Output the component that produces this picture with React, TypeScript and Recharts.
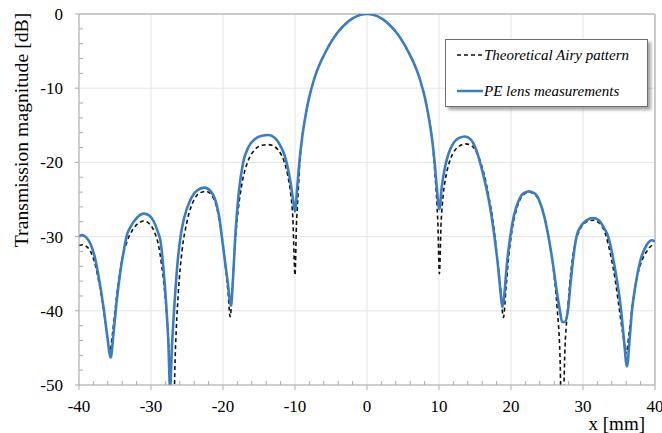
import React from 'react';
import { LineChart, Line, XAxis, YAxis, CartesianGrid, Legend } from 'recharts';

// ---- data ----
const seriesNames: string[] = ['Theoretical Airy pattern', 'PE lens measurements'];

const theoryX: number[] = [
  -40, -39.5, -39, -38.4, -37.8, -37.2, -36.6, -36.1, -35.7, -35.4, -35, -34.5, -34, -33.3, -32.5, -31.6, -31,
  -30.3, -29.6, -29, -28.5, -28, -27.5, -27, -26.6, -26.2, -25.7, -25, -24, -23.2, -22.4, -21.6, -20.9, -20.4,
  -20, -19.6, -19.3, -19, -18.7, -18.4, -17.9, -17.3, -16.6, -15.6, -14.6, -13.7, -12.8, -12, -11.5, -11, -10.6,
  -10.3, -10, -9.8, -9.6, -9.4, -9, -8.5, -8, -7.5, -7, -6.5, -6, -5.5, -5, -4, -3, -2, -1, 0, 1, 2, 3, 4, 5, 5.5,
  6, 6.5, 7, 7.5, 8, 8.5, 9, 9.4, 9.65, 9.85, 10.05, 10.3, 10.6, 11, 11.5, 12, 12.8, 13.7, 14.6, 15.4, 16.1,
  16.8, 17.5, 18, 18.5, 18.95, 19.3, 19.7, 20.2, 20.8, 21.6, 22.5, 23.3, 24, 24.7, 25.3, 25.9, 26.4, 26.8, 27.1,
  27.5, 27.9, 28.4, 28.9, 29.6, 30.5, 31.4, 32.3, 33.1, 33.8, 34.5, 35, 35.6, 36, 36.4, 36.9, 37.5, 38.2, 39,
  39.6, 40,
];
const theoryY: number[] = [
  -31.2, -31.1, -31.3, -32, -33.6, -36.3, -39.8, -43.5, -45.5, -43.5, -40, -36, -33, -30.6, -29, -28.1, -27.9,
  -28.2, -29.2, -31, -34, -38.5, -45.5, -58, -45, -37.5, -32, -28, -25, -24.1, -23.9, -24.4, -26, -28.5,
  -31, -34.5, -37.5, -40.8, -37, -32, -26.5, -22.5, -20, -18.3, -17.7, -17.6, -17.9, -18.8, -19.9, -21.8, -24.2,
  -27.5, -35.2, -28.5, -24.8, -21, -16.6, -13.5, -11.1, -9.3, -7.8, -6.6, -5.6, -4.65, -3.8, -2.4, -1.35, -0.6, -0.15, 0, -0.15, -0.6, -1.35, -2.4, -3.8, -4.65,
  -5.6, -6.6, -7.8, -9.3, -11.1, -13.5, -16.6, -21, -24.5, -28.5, -35, -28, -24.3, -21.7, -19.8, -18.7, -17.8, -17.5, -17.8, -19, -21,
  -24, -28, -32, -36.5, -40.9, -37, -32.5, -28.8, -26.2, -24.5, -24, -24.3, -25.4, -27.6, -30.5, -34.5, -39.5, -46, -58,
  -45, -39.5, -34, -31, -29, -28, -27.8, -28.2, -29.6, -32.3, -36, -39.5, -43.5, -45.7, -43, -39, -35.5, -33.2, -31.8,
  -31.2, -31.2,
];

const measuredX: number[] = [
  -40, -39.6, -39, -38.4, -37.8, -37.2, -36.6, -36.1, -35.6, -35.2, -34.8, -34.3, -33.8, -33.4, -32.8, -32, -31,
  -30.2, -29.6, -29, -28.7, -28.3, -27.9, -27.6, -27.35, -27.1, -26.8, -26.4, -25.9, -25.4, -24.6, -23.6, -22.6,
  -21.7, -21, -20.5, -20.1, -19.7, -19.3, -18.9, -18.6, -18.3, -17.8, -17.2, -16.5, -15.5, -14.6, -13.7, -12.8,
  -12, -11.5, -11.1, -10.6, -10.25, -10, -9.7, -9.4, -9, -8.5, -8, -7.5, -7, -6.5, -6, -5.5, -5, -4, -3, -2, -1, 0,
  1, 2, 3, 4, 5, 5.5, 6, 6.5, 7, 7.5, 8, 8.5, 9, 9.4, 9.7, 10.05, 10.4, 10.8, 11.3, 12, 12.8, 13.6, 14.4, 15, 15.7,
  16.3, 17, 17.7, 18.2, 18.55, 18.8, 19.1, 19.4, 19.9, 20.4, 21, 21.7, 22.5, 23.3, 24, 24.6, 25.2, 25.8, 26.3,
  26.8, 27.1, 27.5, 27.9, 28.3, 28.7, 29.1, 29.7, 30.5, 31.4, 32.2, 32.9, 33.5, 34.1, 34.7, 35.3, 35.7, 36.1,
  36.5, 36.8, 37.3, 37.9, 38.8, 39.6, 40,
];
const measuredY: number[] = [
  -30, -29.8, -30.1, -31, -32.8, -35.8, -39.5, -43.2, -46.3, -43, -39, -35, -32, -30, -28.6, -27.5, -26.9,
  -27.2, -28, -29.5, -30.5, -34, -39, -44, -50.5, -45, -40, -34.5, -30, -27.5, -25.2, -23.8, -23.4,
  -23.9, -25.3, -27.5, -30.5, -33.5, -36.5, -39.3, -35.5, -30, -24, -20, -18, -16.8, -16.4, -16.3, -16.7,
  -17.8, -18.9, -20.3, -22.8, -25.2, -26.6, -23.5, -20, -16.6, -13.5, -11.1, -9.3, -7.8, -6.6, -5.6, -4.65, -3.8, -2.4, -1.35, -0.6, -0.15, 0,
  -0.15, -0.6, -1.35, -2.4, -3.8, -4.65, -5.6, -6.6, -7.8, -9.3, -11.1, -13.5, -16.6, -20, -23.5, -26.3, -23.2, -20.8, -18.9, -17.4, -16.7, -16.5, -16.9, -17.9, -20,
  -22.3, -25.5, -30, -34, -37.5, -39.5, -37.5, -34, -30, -27.2, -25.3, -24.2, -23.9, -24.2, -25.3, -27.2, -30, -33.5, -37,
  -40, -41.5, -41.5, -40, -36, -32.5, -30, -28.6, -27.8, -27.5, -27.8, -28.8, -30, -32.5, -35.8, -40, -44, -47.5,
  -43.5, -40, -36.5, -33.5, -31.2, -30.5, -30.7,
];

const xTicks: number[] = [
  -40, -38, -36, -34, -32, -30, -28, -26, -24, -22, -20, -18, -16, -14, -12, -10, -8, -6, -4, -2, 0,
  2, 4, 6, 8, 10, 12, 14, 16, 18, 20, 22, 24, 26, 28, 30, 32, 34, 36, 38, 40,
];
const yTicks: number[] = [
  -50, -48, -46, -44, -42, -40, -38, -36, -34, -32, -30, -28, -26, -24, -22, -20, -18, -16, -14, -12, -10,
  -8, -6, -4, -2, 0,
];
const xMajor: number[] = [-40, -30, -20, -10, 0, 10, 20, 30, 40];
const yMajor: number[] = [-50, -40, -30, -20, -10, 0];

const theoryData = theoryX.map((x, i) => ({ x, y: theoryY[i] }));
const measuredData = measuredX.map((x, i) => ({ x, y: measuredY[i] }));

// ---- styles ----
const BLUE = '#3c7cc0';
const AXIS = '#ababab';
const GRID = '#e4e4e4';
const FONT = '"Liberation Serif", "Times New Roman", serif';
const TICK_MARGIN = 10;

const XTick = (props: any) => {
  const { x, y, payload } = props;
  const v = payload.value as number;
  const axisY = y - TICK_MARGIN;
  const major = xMajor.includes(v);
  return (
    <g>
      {major ? (
        <line x1={x} x2={x} y1={axisY} y2={axisY + 5} stroke={AXIS} />
      ) : (
        <line x1={x} x2={x} y1={axisY} y2={axisY - 4} stroke={AXIS} />
      )}
      {major && (
        <text x={x} y={axisY + 27} textAnchor="middle" fontFamily={FONT} fontSize={17} fill="#000">
          {String(v)}
        </text>
      )}
    </g>
  );
};

const YTick = (props: any) => {
  const { x, y, payload } = props;
  const v = payload.value as number;
  const axisX = x + TICK_MARGIN;
  const major = yMajor.includes(v);
  return (
    <g>
      {major ? (
        <line x1={axisX - 4} x2={axisX} y1={y} y2={y} stroke={AXIS} />
      ) : (
        <line x1={axisX} x2={axisX + 4} y1={y} y2={y} stroke={AXIS} />
      )}
      {major && (
        <text x={axisX - 16} y={y} dy="0.35em" textAnchor="end" fontFamily={FONT} fontSize={17} fill="#000">
          {String(v)}
        </text>
      )}
    </g>
  );
};

const YLabel = (props: any) => {
  const vb = props.viewBox || { x: 0, y: 0 };
  const cx = vb.x + 28;
  const cy = vb.y + 116;
  return (
    <text
      x={cx}
      y={cy}
      transform={`rotate(-90 ${cx} ${cy})`}
      textAnchor="middle"
      fontFamily={FONT}
      fontSize={19.7}
      fill="#000"
    >
      Transmission magnitude [dB]
    </text>
  );
};

const XLabel = (props: any) => {
  const vb = props.viewBox || { x: 0, y: 0, width: 0 };
  return (
    <text x={vb.x + vb.width - 10} y={vb.y + 45} textAnchor="end" fontFamily={FONT} fontSize={19} fill="#000">
      x [mm]
    </text>
  );
};

const LegendBox = (props: any) => {
  const payload: any[] = [...(props.payload || [])].sort(
    (a, b) => seriesNames.indexOf(a.value) - seriesNames.indexOf(b.value)
  );
  return (
    <div
      style={{
        width: 203,
        height: 68,
        boxSizing: 'border-box',
        border: '1px solid #6e6e6e',
        background: '#fff',
        boxShadow: '3px 3px 3px rgba(0,0,0,0.35)',
        position: 'relative',
      }}
    >
      <svg width={203} height={68} style={{ position: 'absolute', left: -1, top: -1 }}>
        {payload.map((entry, i) => {
          const rowY = 16 + i * 36;
          const dashed = entry.payload && entry.payload.strokeDasharray;
          return (
            <g key={i}>
              <line
                x1={12}
                x2={38}
                y1={rowY}
                y2={rowY}
                stroke={entry.color}
                strokeWidth={dashed ? 1.6 : 2.5}
                strokeDasharray={dashed ? '4 3' : undefined}
              />
              <text x={39} y={rowY + 5} fontFamily={FONT} fontStyle="italic" fontSize={15} fill="#000">
                {entry.value}
              </text>
            </g>
          );
        })}
      </svg>
    </div>
  );
};

export default function App() {
  return (
    <div style={{ position: 'absolute', left: 0, top: 0, width: 662, height: 433, background: '#fff' }}>
      <LineChart width={662} height={433} margin={{ top: 14, right: 7, bottom: 0, left: 0 }}>
        <CartesianGrid stroke={GRID} horizontalValues={yMajor} verticalValues={xMajor} />
        <CartesianGrid stroke="#cacaca" strokeWidth={2} horizontalValues={[0]} verticalValues={[40]} />
        <XAxis
          type="number"
          dataKey="x"
          domain={[-40, 40]}
          ticks={xTicks}
          interval={0}
          height={48}
          tickSize={0}
          tickMargin={TICK_MARGIN}
          tickLine={false}
          axisLine={{ stroke: AXIS }}
          tick={<XTick />}
          label={<XLabel />}
          allowDataOverflow
        />
        <YAxis
          type="number"
          domain={[-50, 0]}
          ticks={yTicks}
          interval={0}
          width={79}
          tickSize={0}
          tickMargin={TICK_MARGIN}
          tickLine={false}
          axisLine={{ stroke: AXIS }}
          tick={<YTick />}
          label={<YLabel />}
          allowDataOverflow
        />
        <Legend
          content={<LegendBox />}
          layout="horizontal"
          verticalAlign="middle"
          align="center"
          wrapperStyle={{ position: 'absolute', left: 445, top: 39, width: 203, height: 68 }}
        />
        <Line
          data={theoryData}
          dataKey="y"
          name={seriesNames[0]}
          type="monotone"
          stroke="#111"
          strokeWidth={1.6}
          strokeDasharray="4 3"
          dot={false}
          activeDot={false}
          isAnimationActive={false}
        />
        <Line
          data={measuredData}
          dataKey="y"
          name={seriesNames[1]}
          type="monotone"
          stroke={BLUE}
          strokeWidth={2.6}
          dot={false}
          activeDot={false}
          isAnimationActive={false}
        />
      </LineChart>
    </div>
  );
}
